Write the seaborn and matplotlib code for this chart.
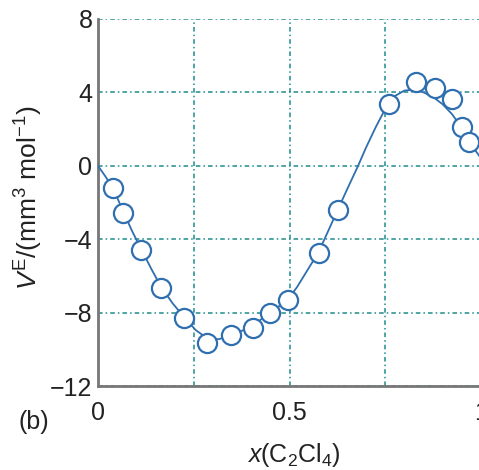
import matplotlib
matplotlib.use("Agg")
import matplotlib.pyplot as plt
import seaborn as sns
import pandas as pd

# measured points
pts_x = [0.039, 0.065, 0.113, 0.165, 0.225, 0.285, 0.348, 0.406, 0.448, 0.497,
         0.576, 0.626, 0.759, 0.830, 0.880, 0.924, 0.950, 0.969]
pts_y = [-1.2, -2.56, -4.58, -6.65, -8.28, -9.65, -9.2, -8.83, -8.0, -7.3,
         -4.74, -2.4, 3.38, 4.58, 4.25, 3.65, 2.13, 1.31]

# fitted curve
curve_x = [0, 0.02, 0.04, 0.065, 0.09, 0.113, 0.14, 0.165, 0.195, 0.225, 0.255,
           0.285, 0.315, 0.348, 0.38, 0.406, 0.43, 0.448, 0.47, 0.497, 0.52,
           0.545, 0.576, 0.60, 0.626, 0.65, 0.678, 0.70, 0.725, 0.75, 0.775,
           0.80, 0.825, 0.85, 0.875, 0.90, 0.925, 0.95, 0.97, 0.985, 1.0]
curve_y = [0, -0.6, -1.25, -2.45, -3.6, -4.55, -5.65, -6.6, -7.5, -8.25, -8.95,
           -9.4, -9.45, -9.25, -8.95, -8.7, -8.3, -8.0, -7.7, -7.25, -6.6,
           -5.75, -4.7, -3.6, -2.4, -1.3, -0.05, 1.0, 2.1, 3.1, 3.8,
           4.1, 4.15, 4.0, 3.75, 3.35, 2.8, 2.05, 1.35, 0.85, 0.4]

x_major = [0, 0.5, 1]
x_major_labels = ["0", "0.5", "1"]
x_minor = [0.25, 0.75]
y_ticks = [-12, -8, -4, 0, 4, 8]
y_labels = ["\u221212", "\u22128", "\u22124", "0", "4", "8"]

sns.set_style("white")
plt.rcParams['font.family'] = ['Liberation Sans', 'DejaVu Sans']
plt.rcParams['mathtext.fontset'] = 'custom'
plt.rcParams['mathtext.rm'] = 'Liberation Sans'
plt.rcParams['mathtext.it'] = 'Liberation Sans:italic'

blue = "#2f6fb0"
teal = "#1f8c8c"
txt = "#222222"
fs = 18

fig = plt.figure(figsize=(4.79, 4.70), dpi=100)
ax = fig.add_axes([98/479, 1-386/470, 383/479, (386-19)/470])

dfc = pd.DataFrame({"x": curve_x, "y": curve_y})
dfp = pd.DataFrame({"x": pts_x, "y": pts_y})
sns.lineplot(data=dfc, x="x", y="y", ax=ax, color=blue, lw=1.3, zorder=3, sort=False)
sns.scatterplot(data=dfp, x="x", y="y", ax=ax, s=190, facecolor="white",
                edgecolor=blue, linewidth=1.6, zorder=4)

ax.set_xlim(0, 1)
ax.set_ylim(-12, 8)
ax.set_xticks(x_major)
ax.set_xticklabels(x_major_labels)
ax.set_xticks(x_minor, minor=True)
ax.set_yticks(y_ticks)
ax.set_yticklabels(y_labels)
ax.tick_params(axis='both', which='both', length=0, labelsize=fs, colors=txt)
ax.tick_params(axis='x', pad=11)
ax.tick_params(axis='y', pad=4)

ax.grid(True, which='both', color=teal, lw=1.1, linestyle=(0, (3, 2, 1, 2)))
ax.set_axisbelow(True)

for s in ["top", "right"]:
    ax.spines[s].set_visible(False)
for s in ["left", "bottom"]:
    ax.spines[s].set_color("#777777")
    ax.spines[s].set_linewidth(2)

ax.set_xlabel(r"$x$(C$_2$Cl$_4$)", fontsize=fs, color=txt)
ax.xaxis.set_label_coords((294-98)/383, (386-441)/367)
ax.set_ylabel(r"$V^{\mathrm{E}}$/(mm$^3$ mol$^{-1}$)", fontsize=19, color=txt)
ax.yaxis.set_label_coords((45-98)/383, (386-198)/367)
fig.text(19/479, 1-422/470, "(b)", fontsize=fs, color=txt, va="center", ha="left")

fig.savefig("out.png", dpi=100)
